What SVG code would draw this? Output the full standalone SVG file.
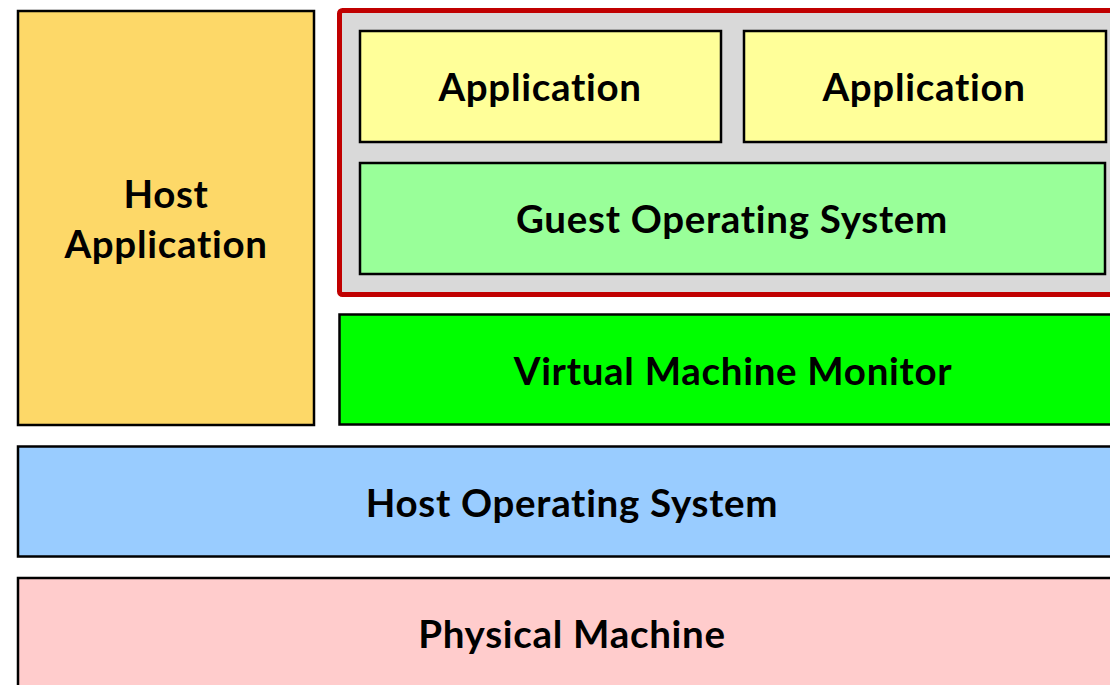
<svg xmlns="http://www.w3.org/2000/svg" width="1110" height="685" viewBox="0 0 1110 685">
<style>
.box{stroke:#000;stroke-width:2.5}
.lbl{font-family:Lato,"Open Sans","Liberation Sans",sans-serif;font-weight:bold;font-size:38.5px;fill:#000;text-anchor:middle;font-variant-ligatures:none;letter-spacing:0.7px}
</style>
<rect width="1110" height="685" fill="#fff"/>
<g id="host-application">
<rect class="box" x="18" y="11" width="296" height="414" fill="#FDD868"/>
<text class="lbl" x="166" y="208">Host</text>
<text class="lbl" x="166" y="258">Application</text>
</g>
<g id="vm-container">
<rect x="339.5" y="10.5" width="790" height="284" rx="3" fill="#D9D9D9" stroke="#C00000" stroke-width="5"/>
</g>
<g id="application-1">
<rect class="box" x="360" y="31" width="361" height="111" fill="#FFFF99"/>
<text class="lbl" x="540" y="101">Application</text>
</g>
<g id="application-2">
<rect class="box" x="744" y="31" width="362" height="111" fill="#FFFF99"/>
<text class="lbl" x="924" y="101">Application</text>
</g>
<g id="guest-os">
<rect class="box" x="360" y="163" width="745" height="111" fill="#99FF99"/>
<text class="lbl" x="732" y="233">Guest Operating System</text>
</g>
<g id="vmm">
<rect class="box" x="339.5" y="314.5" width="790" height="110" fill="#00FF00"/>
<text class="lbl" x="733" y="385">Virtual Machine Monitor</text>
</g>
<g id="host-os">
<rect class="box" x="18" y="446.5" width="1110" height="110" fill="#99CCFF"/>
<text class="lbl" x="572" y="517">Host Operating System</text>
</g>
<g id="physical-machine">
<rect class="box" x="18" y="578" width="1110" height="130" fill="#FFCCCC"/>
<text class="lbl" x="572" y="648">Physical Machine</text>
</g>
<g id="connectors"></g>
</svg>
